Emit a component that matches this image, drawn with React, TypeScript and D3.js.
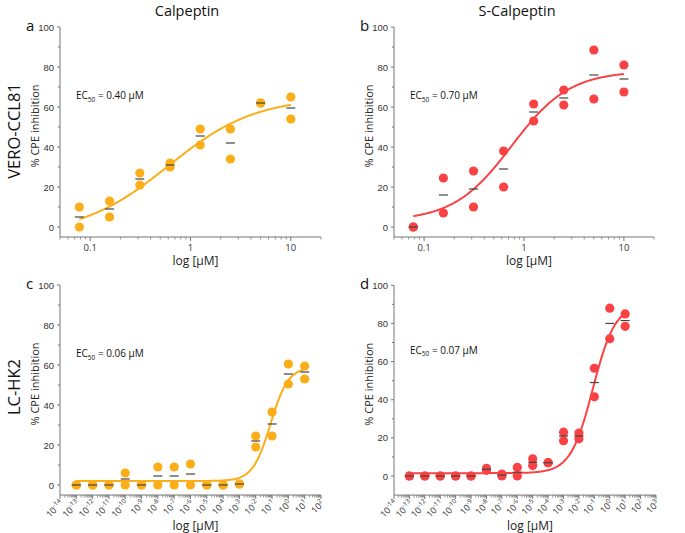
import * as d3 from 'd3';

// Concentrations (µM)
const topConc = [0.078, 0.156, 0.3125, 0.625, 1.25, 2.5, 5, 10];
const bottomConc = [1e-13, 1e-12, 1e-11, 1e-10, 1e-9, 1e-8, 1e-7, 1e-6, 1e-5, 1e-4, 1e-3, 1e-2, 1e-1, 1e0, 1e1];

// a: Calpeptin / VERO-CCL81
const aRep1 = [10, 13, 27, 32, 49, 49, 62, 65];
const aRep2 = [0, 5, 21, 30, 41, 34, 62, 54];
const aMean = [5, 9, 24, 31, 45.5, 42, 62, 59.5];

// b: S-Calpeptin / VERO-CCL81
const bRep1 = [0, 24.5, 28, 38, 61.5, 68.5, 88.5, 81];
const bRep2 = [0, 7, 10, 20, 53, 61, 64, 67.5];
const bMean = [0, 16, 19, 29, 57.5, 64.5, 76, 74];

// c: Calpeptin / LC-HK2
const cRep1 = [0, 0, 0, 6, 0, 9, 9, 10.5, 0, 0, 0.5, 24.5, 36.5, 60.5, 59.5];
const cRep2 = [0, 0, 0, 0, 0, 0, 0, 0, 0, 0, 0.5, 19, 24.5, 50.5, 53];
const cMean = [0, 0, 0, 3, 0, 4.5, 4.5, 5.5, 0, 0, 0.5, 22, 30.5, 55.5, 56.5];

// d: S-Calpeptin / LC-HK2
const dRep1 = [0, 0, 0, 0, 0, 4, 1, 4.5, 9, 7, 23, 22.5, 56.5, 88, 85];
const dRep2 = [0, 0, 0, 0, 0, 3, 0, 0, 5.5, 7, 18.5, 19.5, 41.5, 72, 78.5];
const dMean = [0, 0, 0, 0, 0, 3.5, 0.5, 2, 7.2, 7, 21, 21, 49, 80, 81.5];

// fitted dose-response parameters: [bottom, top, ec50, hill]
const aFit = [-4, 65, 0.6, 1];
const bFit = [3, 78, 0.75, 1.5];
const cFit = [2, 59, 0.08, 0.8];
const dFit = [1.5, 90, 0.08, 0.6];

const yMajor = [0, 20, 40, 60, 80, 100];
const yMinor = [10, 30, 50, 70, 90];
const topMajor = [0.1, 1, 10];

const ORANGE = '#FBAE17';
const RED = '#FA4245';
const TICK_FONT = 'Liberation Sans, Arial, sans-serif';
const LABEL_FONT = 'Open Sans, sans-serif';

interface PanelProps {
  x0: number;
  x1: number;
  yTop: number;
  yZero: number;
  yMin: number;
  xDomain: [number, number];
  conc: number[];
  rep1: number[];
  rep2: number[];
  mean: number[];
  fit: number[];
  color: string;
  letter: string;
  ec50: string;
  expTicks: boolean;
}

function Panel(p: PanelProps) {
  const x = d3.scaleLog().domain(p.xDomain).range([p.x0, p.x1]);
  const unit = (p.yZero - p.yTop) / 100;
  const axisY = p.yZero - p.yMin * unit;
  const y = d3.scaleLinear().domain([p.yMin, 100]).range([axisY, p.yTop]);

  const [bottom, top, ec, hill] = p.fit;
  const hillFn = (c: number) => bottom + (top - bottom) / (1 + Math.pow(ec / c, hill));
  const lo = Math.log10(p.conc[0]);
  const hi = Math.log10(p.conc[p.conc.length - 1]);
  const curveX = d3.range(0, 201).map((i) => Math.pow(10, lo + ((hi - lo) * i) / 200));
  const path = d3
    .line<number>()
    .x((c) => x(c))
    .y((c) => y(hillFn(c)))
    .curve(d3.curveMonotoneX)(curveX) ?? '';

  const e0 = Math.round(Math.log10(p.xDomain[0]));
  const e1 = Math.round(Math.log10(p.xDomain[1]));
  const minor: number[] = [];
  for (let e = Math.floor(Math.log10(p.xDomain[0])); e <= e1; e++) {
    for (let k = 2; k <= 9; k++) {
      const v = k * Math.pow(10, e);
      if (v >= p.xDomain[0] && v <= p.xDomain[1]) minor.push(v);
    }
  }
  const major = p.expTicks ? d3.range(e0, e1 + 1).map((e) => Math.pow(10, e)) : topMajor;
  const axisColor = '#777';

  return (
    <g>
      {/* axes */}
      <line x1={p.x0} x2={p.x1} y1={axisY} y2={axisY} stroke={axisColor} strokeWidth={1} />
      <line x1={p.x0} x2={p.x0} y1={p.yTop} y2={axisY} stroke={axisColor} strokeWidth={1} />
      {yMajor.map((v) => (
        <g key={'ym' + v}>
          <line x1={p.x0 - 3} x2={p.x0} y1={y(v)} y2={y(v)} stroke={axisColor} />
          <text x={p.x0 - 6} y={y(v) + 3.5} textAnchor="end" fontSize={9.5} fill="#333" fontFamily={TICK_FONT}>
            {v}
          </text>
        </g>
      ))}
      {yMinor.map((v) => (
        <line key={'yn' + v} x1={p.x0 - 2} x2={p.x0} y1={y(v)} y2={y(v)} stroke={axisColor} />
      ))}
      {minor.map((v, i) => (
        <line key={'xn' + i} x1={x(v)} x2={x(v)} y1={axisY} y2={axisY + 2.5} stroke={axisColor} strokeWidth={0.8} />
      ))}
      {major.map((v, i) => (
        <g key={'xm' + i}>
          <line x1={x(v)} x2={x(v)} y1={axisY} y2={axisY + 4} stroke={axisColor} />
          {p.expTicks ? (
            <text
              transform={`translate(${x(v) + 4},${axisY + 9}) rotate(-45)`}
              textAnchor="end"
              fontSize={9}
              fill="#333"
              fontFamily={LABEL_FONT}
            >
              10
              <tspan dy={-3.8} fontSize={6.5}>
                {Math.round(Math.log10(v))}
              </tspan>
            </text>
          ) : (
            <text x={x(v)} y={axisY + 13.5} textAnchor="middle" fontSize={9.5} fill="#333" fontFamily={LABEL_FONT}>
              {v}
            </text>
          )}
        </g>
      ))}

      {/* titles */}
      <text
        transform={`translate(${p.x0 - 21},${(p.yTop + axisY) / 2 - 6}) rotate(-90)`}
        textAnchor="middle"
        fontSize={11}
        fill="#222"
        fontFamily={LABEL_FONT}
      >
        % CPE inhibition
      </text>
      <text
        x={(p.x0 + p.x1) / 2 + 5}
        y={p.expTicks ? axisY + 35 : axisY + 28}
        textAnchor="middle"
        fontSize={12}
        fill="#222"
        fontFamily={LABEL_FONT}
      >
        log [µM]
      </text>
      <text x={p.x0 - 34} y={p.yTop + 4} fontSize={15} fill="#111" fontFamily={LABEL_FONT}>
        {p.letter}
      </text>
      <text x={p.x0 + 16} y={y(64)} fontSize={10} fill="#111" fontFamily={LABEL_FONT}>
        EC
        <tspan dy={2.5} fontSize={6.5}>
          50
        </tspan>
        <tspan dy={-2.5}> = {p.ec50}</tspan>
      </text>

      {/* curve */}
      <path d={path} fill="none" stroke={p.color} strokeWidth={2} />

      {/* replicate points */}
      {p.conc.map((c, i) => (
        <g key={'pt' + i}>
          <circle cx={x(c)} cy={y(p.rep1[i])} r={4.6} fill={p.color} />
          <circle cx={x(c)} cy={y(p.rep2[i])} r={4.6} fill={p.color} />
        </g>
      ))}
      {/* mean bars */}
      {p.conc.map((c, i) => (
        <line
          key={'mn' + i}
          x1={x(c) - 4.5}
          x2={x(c) + 4.5}
          y1={y(p.mean[i])}
          y2={y(p.mean[i])}
          stroke="#444"
          strokeWidth={1.2}
        />
      ))}
    </g>
  );
}

export default function App() {
  return (
    <svg
      width={685}
      height={533}
      viewBox="0 0 685 533"
      style={{ position: 'absolute', left: 0, top: 0, background: '#fff' }}
    >
      <rect width={685} height={533} fill="#fff" />
      <text x={187} y={16} textAnchor="middle" fontSize={14.5} fill="#111" fontFamily={LABEL_FONT}>
        Calpeptin
      </text>
      <text x={517} y={16} textAnchor="middle" fontSize={14.5} fill="#111" fontFamily={LABEL_FONT}>
        S-Calpeptin
      </text>
      <text transform="translate(20,131) rotate(-90)" textAnchor="middle" fontSize={16.5} fill="#111" fontFamily={LABEL_FONT}>
        VERO-CCL81
      </text>
      <text transform="translate(20,387) rotate(-90)" textAnchor="middle" fontSize={16.5} fill="#111" fontFamily={LABEL_FONT}>
        LC-HK2
      </text>

      <Panel x0={60} x1={321} yTop={27} yZero={227} yMin={-5} xDomain={[0.05, 20]} conc={topConc}
        rep1={aRep1} rep2={aRep2} mean={aMean} fit={aFit} color={ORANGE} letter="a" ec50="0.40 µM" expTicks={false} />
      <Panel x0={394} x1={654} yTop={27} yZero={227} yMin={-5} xDomain={[0.05, 20]} conc={topConc}
        rep1={bRep1} rep2={bRep2} mean={bMean} fit={bFit} color={RED} letter="b" ec50="0.70 µM" expTicks={false} />
      <Panel x0={60} x1={321} yTop={285} yZero={485} yMin={-5} xDomain={[1e-14, 1e2]} conc={bottomConc}
        rep1={cRep1} rep2={cRep2} mean={cMean} fit={cFit} color={ORANGE} letter="c" ec50="0.06 µM" expTicks />
      <Panel x0={394} x1={656} yTop={285.3} yZero={476} yMin={-10} xDomain={[1e-14, 1e3]} conc={bottomConc}
        rep1={dRep1} rep2={dRep2} mean={dMean} fit={dFit} color={RED} letter="d" ec50="0.07 µM" expTicks />
    </svg>
  );
}
